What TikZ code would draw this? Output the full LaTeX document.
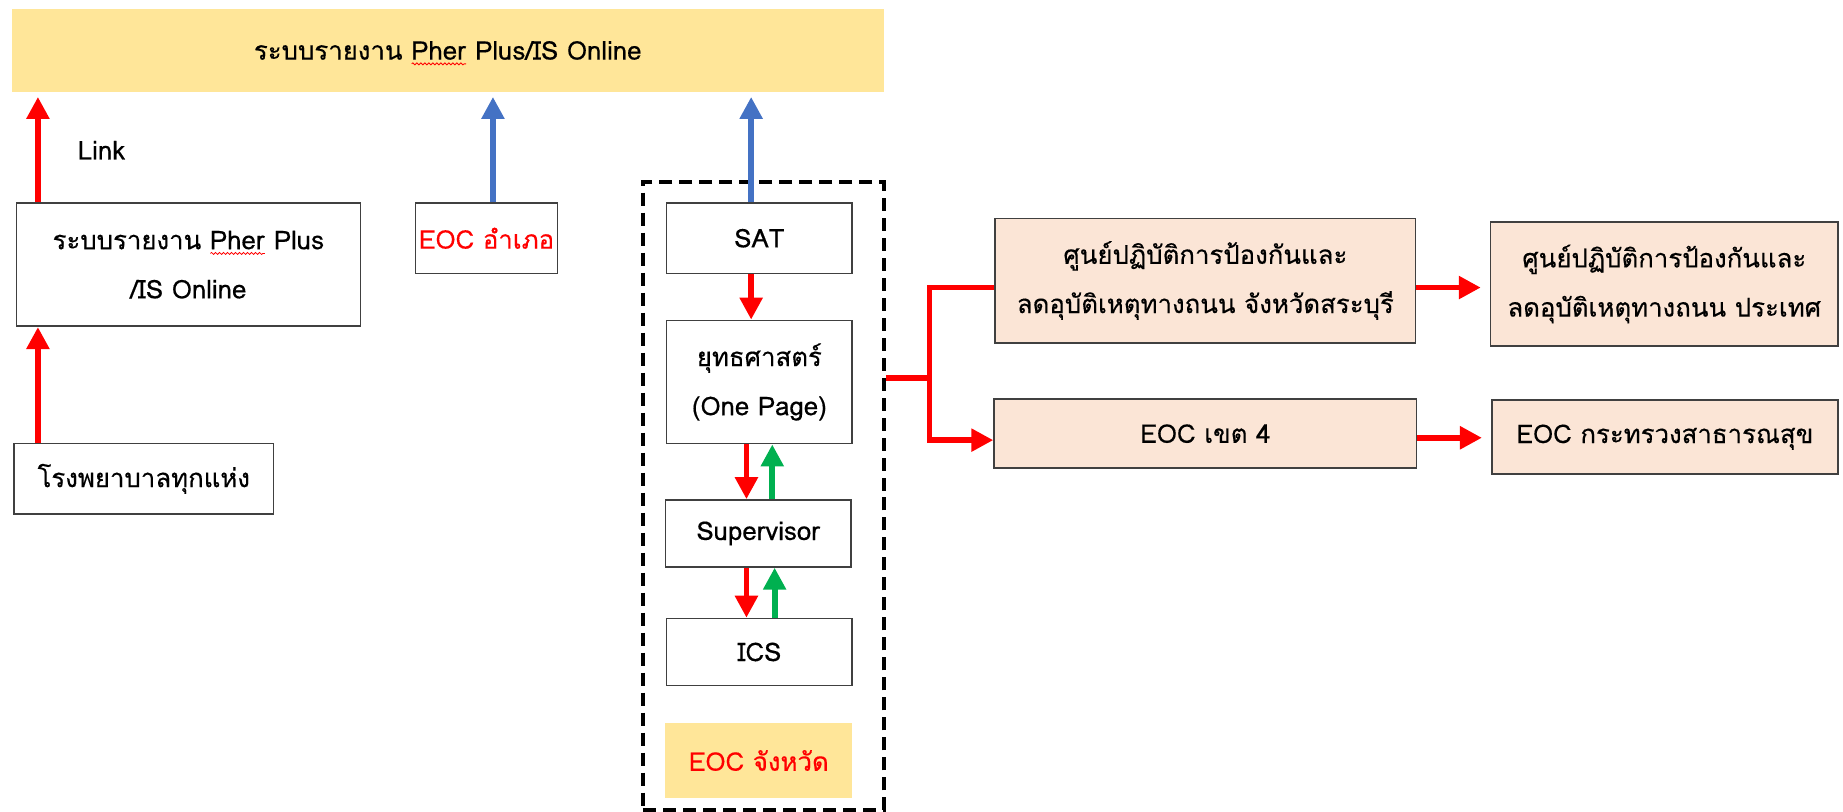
\documentclass[tikz,border=0pt]{standalone}
\usepackage{fontspec}
\setmainfont[Script=Thai,FakeBold=0.4]{Loma}
\usetikzlibrary{arrows.meta,calc,decorations.pathmorphing}
\definecolor{bannery}{HTML}{FFE699}
\definecolor{peach}{HTML}{FBE5D6}
\definecolor{eblue}{HTML}{4472C4}
\definecolor{egreen}{HTML}{00B050}
\definecolor{ered}{HTML}{FF0000}
\definecolor{bord}{HTML}{404040}
\newlength\rwlen
\newcommand\redwave[1]{\setbox0\hbox{#1}\setlength\rwlen{\wd0}\rlap{\box0}\raisebox{-2.8pt}[0pt][0pt]{\tikz[x=1pt,y=1pt]\draw[ered,line width=0.4pt,decorate,decoration={snake,amplitude=0.5pt,segment length=2pt}] (0,0)--(\rwlen,0);}}
\begin{document}
\begin{tikzpicture}[x=0.5869pt,y=-0.5869pt,
  sz/.style 2 args={minimum width=#1*0.5869pt, minimum height=#2*0.5869pt},
  txt/.style={font=\fontsize{12.9}{24.6}\selectfont, align=center, inner sep=0pt},
  box/.style={txt, draw=bord, line width=0.8pt, fill=white},
  pbox/.style={box, fill=peach},
  tip/.style={-{Triangle[width=11pt,length=11pt]}},
  redarr/.style={draw=ered, line width=2.9pt, tip},
  bluearr/.style={draw=eblue, line width=2.9pt, tip},
  greenarr/.style={draw=egreen, line width=2.9pt, tip},
  redline/.style={draw=ered, line width=2.9pt}
]
\useasboundingbox (0,0) rectangle (1570.3,691.8);

% banner
\node[txt, fill=bannery, sz={743}{70}] (banner) at (381.5,43)
  {ระบบรายงาน \redwave{Pher} Plus/IS Online};

% left column
\node[box, sz={293}{105}] (box1) at (160.5,225.5)
  {ระบบรายงาน \redwave{Pher} Plus\\ /IS Online};
\node[box, sz={221}{60}] (hosp) at (122.5,408) {โรงพยาบาลทุกแห่ง};
\node[txt, anchor=west] (link) at (66,128) {Link};

% EOC amphoe
\node[box, sz={121}{60}, text=ered] (eoca) at (414.5,203) {EOC อำเภอ};

% dashed province group
\node[draw=black, dashed, dash pattern=on 6.5pt off 3.5pt, line width=2pt, sz={205}{535}, inner sep=0pt] (grp) at (650.5,422.5) {};
\node[box, sz={158}{60}] (sat) at (647,203) {SAT};
\node[box, sz={158}{105}] (strat) at (647,325.5) {ยุทธศาสตร์\\(One Page)};
\node[box, sz={158}{57}] (sup) at (646,454.5) {Supervisor};
\node[box, sz={158}{57}] (ics) at (647,555.5) {ICS};
\node[txt, fill=bannery, sz={159}{64}, text=ered] (eocp) at (646.5,648) {EOC จังหวัด};

% right boxes
\node[pbox, sz={358}{106}] (ca) at (1027,239)
  {ศูนย์ปฏิบัติการป้องกันและ\\ลดอุบัติเหตุทางถนน จังหวัดสระบุรี};
\node[pbox, sz={296}{106}] (cb) at (1418,242)
  {ศูนย์ปฏิบัติการป้องกันและ\\ลดอุบัติเหตุทางถนน ประเทศ};
\node[pbox, sz={360}{59}] (cc) at (1027,369.5) {EOC เขต 4};
\node[pbox, sz={295}{63}] (cd) at (1418.5,372.5) {EOC กระทรวงสาธารณสุข};

% left arrows
\draw[redarr] ($(hosp.north west)+(21,0)$) -- ($(box1.south west)+(19,0)$);
\draw[redarr, shorten >=2.5pt] ($(box1.north west)+(19,0)$) coordinate (a1) -- (a1 |- banner.south);
\draw[bluearr, shorten >=2.5pt] ($(eoca.north)+(5.5,0)$) coordinate (a2) -- (a2 |- banner.south);
\draw[bluearr, shorten >=2.5pt] ($(sat.north)+(-7,0)$) coordinate (a3) -- (a3 |- banner.south);

% inside group
\draw[redarr] ($(sat.south)+(-7,0)$) -- ($(strat.north)+(-7,0)$);
\draw[redarr] ($(strat.south)+(-11,0)$) -- ($(sup.north)+(-10,0)$);
\draw[greenarr] ($(sup.north)+(12,0)$) -- ($(strat.south)+(11,0)$);
\draw[redarr] ($(sup.south)+(-10,0)$) -- ($(ics.north)+(-11,0)$);
\draw[greenarr] ($(ics.north)+(13,0)$) -- ($(sup.south)+(14,0)$);

% branch
\coordinate (j) at (792,322);
\draw[redline] (grp.east |- j) -- (j);
\draw[redarr] ($(ca.west)+(0,6)$) -| (j) |- ($(cc.west)+(0,5.5)$);
\draw[redarr, shorten >=4.5pt] ($(ca.east)+(0,6)$) coordinate (a4) -- (a4 -| cb.west);
\draw[redarr, shorten >=4.5pt] ($(cc.east)+(0,3.5)$) coordinate (a5) -- (a5 -| cd.west);
\end{tikzpicture}
\end{document}
